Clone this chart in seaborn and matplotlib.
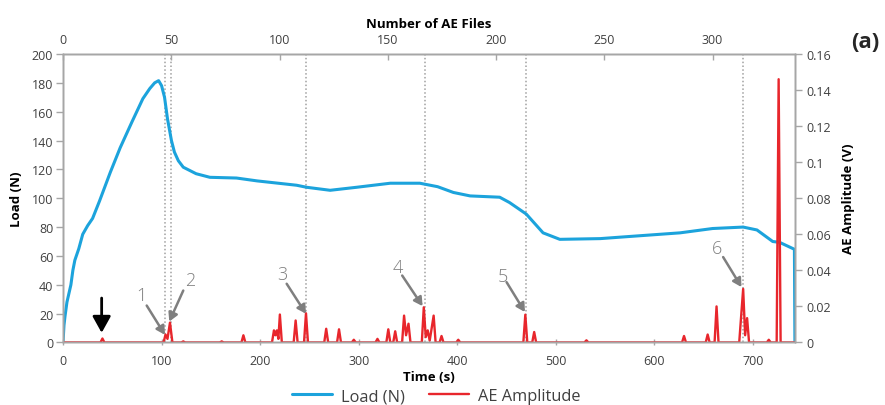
import matplotlib
matplotlib.use("Agg")
import matplotlib.pyplot as plt
from matplotlib.ticker import FuncFormatter
import seaborn as sns
import pandas as pd

# ---------------- data ----------------
load_time = [0, 1, 2, 4, 6, 8, 10, 12, 16, 20, 25, 30, 37, 48, 58, 70, 81, 88, 93, 97,
             100, 103, 106, 110, 113, 117, 122, 135, 149, 176, 197, 237, 247, 271, 298,
             332, 362, 380, 396, 413, 443, 453, 470, 487, 504, 545, 565, 626, 659, 690,
             704, 720, 727, 742, 742.5]
load_values = [0, 12, 18, 28, 34, 40, 50, 57, 65, 75, 81, 86, 98, 118, 135, 153, 169, 176, 180, 181.5,
               178, 170, 155, 140, 132, 126, 121.5, 117, 114.5, 114, 112, 109, 107.6, 105.5, 107.6,
               110.4, 110.4, 108, 104, 101.6, 100.7, 97, 89, 76, 71.5, 72, 73, 76, 79, 80,
               78, 70, 69.4, 64.6, 0]

ae_time = [0, 38, 40, 42, 102, 104, 106, 108.5, 111, 120, 122, 124, 159, 161, 163,
           181, 183, 185, 212, 214, 215.5, 217, 218.5, 220, 222, 234, 236, 238,
           244.5, 246.5, 248.5, 265, 267, 269, 278, 280, 282, 293, 295, 297,
           317, 319, 321, 328, 330, 332, 335, 337, 339, 344, 346, 348, 350.5, 352.5,
           364, 366, 368, 370, 372, 376, 378, 382, 384, 386, 399, 401, 403,
           467, 469, 471, 476, 478, 480, 529, 531, 533, 628, 630, 632,
           652, 654, 656, 661, 663, 665, 686, 690, 692, 694, 696, 714, 716, 718,
           724, 726, 728, 742]
ae_amp = [0, 0, 0.0022, 0, 0, 0.0044, 0.002, 0.011, 0, 0, 0.0006, 0, 0, 0.0006, 0,
          0, 0.004, 0, 0, 0.0067, 0.004, 0.0067, 0.002, 0.0155, 0, 0, 0.0122, 0,
          0, 0.0162, 0, 0, 0.0076, 0, 0, 0.0073, 0, 0, 0.0015, 0,
          0, 0.002, 0, 0, 0.0073, 0, 0, 0.0062, 0, 0, 0.0149, 0.004, 0.0104, 0,
          0, 0.0195, 0.003, 0.0067, 0.001, 0.0149, 0, 0, 0.0036, 0, 0, 0.0015, 0,
          0, 0.0154, 0, 0, 0.0058, 0, 0, 0.0012, 0, 0, 0.0036, 0,
          0, 0.0044, 0, 0, 0.02, 0, 0, 0.0297, 0.004, 0.0135, 0, 0, 0.0015, 0,
          0, 0.146, 0, 0]

event_times = [103.5, 110, 247, 367, 470, 690]
event_labels = ["1", "2", "3", "4", "5", "6"]

left_ticks = [0, 20, 40, 60, 80, 100, 120, 140, 160, 180, 200]
right_ticks = [0, 0.02, 0.04, 0.06, 0.08, 0.1, 0.12, 0.14, 0.16]
bottom_ticks = [0, 100, 200, 300, 400, 500, 600, 700]
top_ticks = [0, 50, 100, 150, 200, 250, 300]

# ---------------- style ----------------
sns.set_theme(style="white")
plt.rcParams["font.family"] = ["Open Sans", "DejaVu Sans"]
plt.rcParams["axes.edgecolor"] = "#a6a6a6"
plt.rcParams["axes.linewidth"] = 1.0

BLUE = "#1ca3dc"
RED = "#e8262c"
GRAY = "#7f7f7f"
TXT = "#404040"

fig = plt.figure(figsize=(8.85, 4.06), dpi=100)
ax = fig.add_axes([0.0712, 0.154, 0.827, 0.7106])

load_df = pd.DataFrame({"time": load_time, "load": load_values})
ae_df = pd.DataFrame({"time": ae_time, "amp": ae_amp})

sns.lineplot(data=load_df, x="time", y="load", ax=ax, color=BLUE, lw=2.2,
             estimator=None, sort=False, legend=False)
ax.set_xlim(0, 742.5)
ax.set_ylim(0, 200)
ax.set_xticks(bottom_ticks)
ax.set_yticks(left_ticks)
ax.set_xlabel("Time (s)", fontsize=9.5, fontweight="bold", color="black", labelpad=2)
ax.set_ylabel("Load (N)", fontsize=9.5, fontweight="bold", color="black", labelpad=6)
ax.tick_params(axis="y", direction="out", length=5, width=1, color="#a6a6a6",
               labelsize=9, labelcolor=TXT, pad=2, left=True)
ax.tick_params(axis="x", direction="inout", length=5, width=1, color="#a6a6a6",
               labelsize=9, labelcolor=TXT, pad=6, bottom=True)

for t in event_times:
    ax.axvline(t, color="#a0a0a0", lw=1.1, ls=(0, (1, 1.5)), zorder=1)

ax2 = ax.twinx()
sns.lineplot(data=ae_df, x="time", y="amp", ax=ax2, color=RED, lw=1.7,
             estimator=None, sort=False, legend=False)
ax2.set_ylim(0, 0.16)
ax2.set_yticks(right_ticks)
ax2.yaxis.set_major_formatter(FuncFormatter(lambda v, p: "%g" % round(v, 3)))
ax2.set_ylabel("AE Amplitude (V)", fontsize=9.5, fontweight="bold", color="black", labelpad=8)
ax2.tick_params(axis="y", direction="out", length=5, width=1, color="#a6a6a6",
                labelsize=9, labelcolor=TXT, pad=3, right=True)

ax3 = ax.twiny()
ax3.set_xlim(0, 338)
ax3.set_xticks(top_ticks)
ax3.set_xlabel("Number of AE Files", fontsize=9.5, fontweight="bold", color="black", labelpad=4)
ax3.tick_params(axis="x", direction="in", length=4, width=1, color="#a6a6a6",
                labelsize=9, labelcolor=TXT, pad=6, top=True)

# ---------------- annotations ----------------
ann = [  # label, text pos, arrow start, arrow end  (time, load units)
    ("1", (79.8, 32.6), (84.9, 25.6), (103.4, 5.3)),
    ("2", (128.8, 43.0), (122.0, 36.0), (107.8, 14.5)),
    ("3", (222.8, 47.6), (226.9, 40.7), (246.5, 19.9)),
    ("4", (340.1, 52.2), (344.1, 46.4), (364.8, 25.2)),
    ("5", (445.9, 46.4), (450.0, 41.8), (468.6, 21.1)),
    ("6", (663.6, 65.4), (669.7, 59.2), (688.3, 38.4)),
]
for lab, tp, st, en in ann:
    ax2.text(tp[0], tp[1] * 0.0008, lab, color=GRAY, fontsize=13, ha="center", va="center",
             fontweight="light")
    ax2.annotate("", xy=(en[0], en[1] * 0.0008), xytext=(st[0], st[1] * 0.0008),
                 arrowprops=dict(arrowstyle="-|>,head_length=0.5,head_width=0.28",
                                 color=GRAY, lw=1.8, mutation_scale=10, shrinkA=0, shrinkB=0))

ax2.annotate("", xy=(39.2, 6.7 * 0.0008), xytext=(39.2, 30.8 * 0.0008),
             arrowprops=dict(arrowstyle="-|>,head_length=0.45,head_width=0.25",
                             color="black", lw=2, mutation_scale=22, shrinkA=0, shrinkB=0))

fig.text(0.978, 0.895, "(a)", fontsize=16, fontweight="bold", ha="center", va="center")

# ---------------- legend ----------------
h1 = ax.get_lines()[0]
h2 = ax2.get_lines()[0]
fig.legend([h1, h2], ["Load (N)", "AE Amplitude"], loc="center",
           bbox_to_anchor=(0.493, 0.022), ncol=2, frameon=False, fontsize=11.8,
           handlelength=2.45, columnspacing=1.5, handletextpad=0.55, labelcolor=TXT)

fig.savefig("out.png", dpi=100)
